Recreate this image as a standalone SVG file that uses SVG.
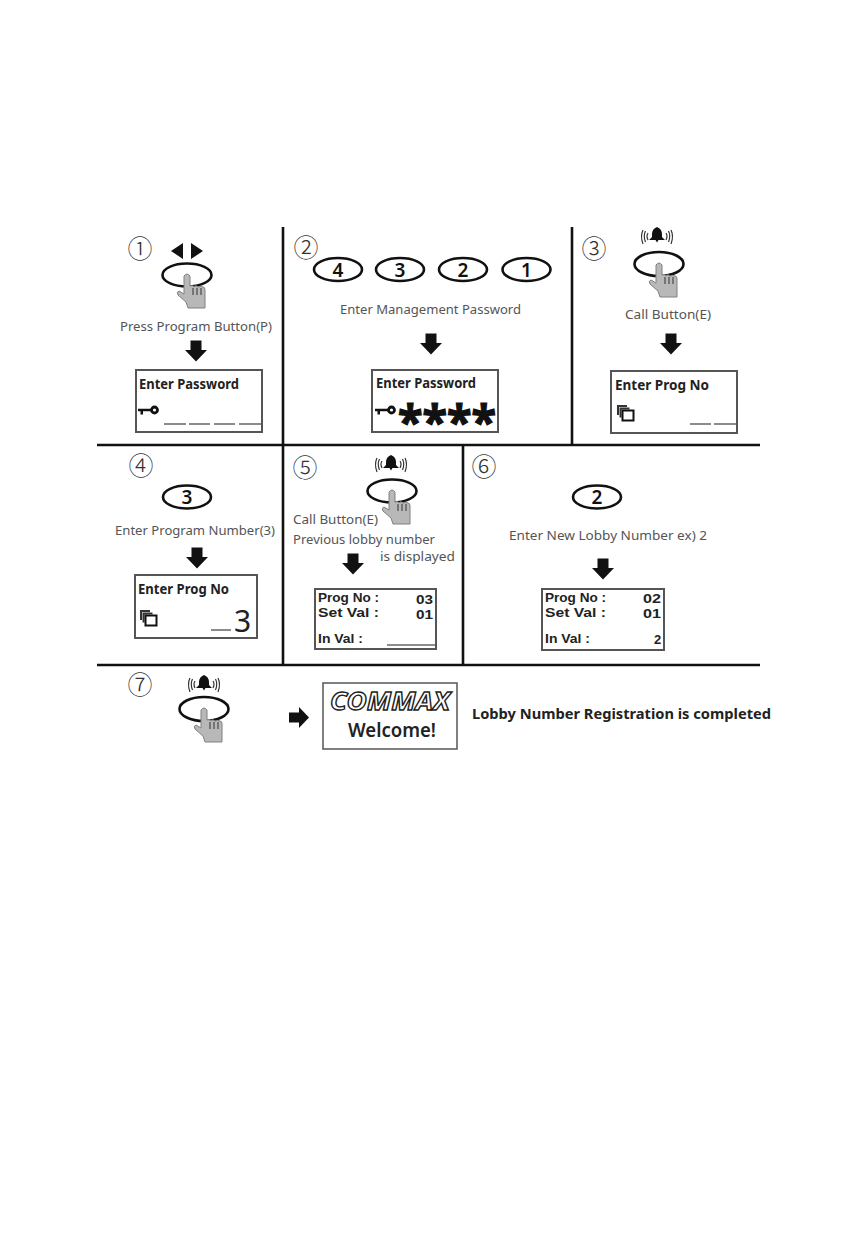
<svg xmlns="http://www.w3.org/2000/svg" xmlns:xlink="http://www.w3.org/1999/xlink" width="850" height="1247" viewBox="0 0 850 1247">
<style>
text{font-family:"Noto Sans","Liberation Sans",sans-serif}
.lab{font-size:12px;fill:#555}
.num{font-family:"Noto Sans CJK KR","DejaVu Sans",sans-serif;font-size:25px;fill:#333;text-anchor:middle;font-weight:300}
.lcd{fill:#fff;stroke:#555;stroke-width:2}
.t{font-size:14px;font-weight:700;fill:#222}
.s{font-family:"Liberation Sans",sans-serif;font-size:13px;font-weight:700;fill:#222}
.oval{fill:none;stroke:#111;stroke-width:2.600}
.dig{font-size:19px;font-weight:600;fill:#111;text-anchor:middle}
.dash{stroke:#666;stroke-width:1.500;fill:none}
.div{stroke:#111;stroke-width:2.600;fill:none}
</style>
<defs>
<g id="hand">
<path d="M-3,1Q0,-3 3,1L3,11Q5,10 7,11.500Q9,10 11,12Q14,10.500 16,12Q18,12 18,15L18,33L1,33L-1,27L-9,20Q-11,17 -8,16L-3,19Z" fill="#b8b8b8" stroke="#808080" stroke-width="1"/>
<path d="M6,13V20M10,13V20M14,13V20" stroke="#333" stroke-width="1" fill="none"/>
</g>
<g id="bell">
<path d="M0,-9Q5,-7 5,-2L5,1L8,4L1.500,4L0,6.500L-1.500,4L-8,4L-5,1L-5,-2Q-5,-7 0,-9Z" fill="#111"/>
<path d="M-9,-3Q-11,0 -9,4M-11.500,-5Q-14,0 -11.500,6M-14,-6Q-17,0 -14,8M9,-3Q11,0 9,4M11.500,-5Q14,0 11.500,6M14,-6Q17,0 14,8" fill="none" stroke="#333" stroke-width="1.200"/>
</g>
<path id="down" d="M-5.500,-10.500H5.500V-1H11L0,10.500L-11,-1H-5.500Z" fill="#111"/>
<g id="key">
<path d="M0,-1.300H14V1.300H5V4.500H2.500V1.300H0Z" fill="#111"/>
<circle cx="16.500" cy="0" r="3" fill="#fff" stroke="#111" stroke-width="2.800"/>
</g>
<g id="copy">
<path d="M0,0H10V2H2V10H0Z" fill="#333"/>
<path d="M2.500,2.500H12.500V4.500H4.500V12.500H2.500Z" fill="#333"/>
<rect x="5.500" y="5.500" width="11" height="10" fill="#fff" stroke="#111" stroke-width="2"/>
</g>
</defs>
<rect width="850" height="1247" fill="#fff"/>

<g id="dividers">
<path class="div" d="M97,445H760M97,665H760M283,227V665M572,227V445M463,445V665"/>
</g>

<g id="step1">
<text class="num" x="140" y="258">①</text>
<path d="M183,243V259L171,251ZM191,243V259L203,251Z" fill="#111"/>
<ellipse class="oval" cx="187" cy="275" rx="24.500" ry="11.500"/>
<use xlink:href="#hand" href="#hand" x="187" y="275"/>
<text class="lab" x="120" y="331" textLength="152" lengthAdjust="spacingAndGlyphs">Press Program Button(P)</text>
<rect class="lcd" x="136" y="370" width="126" height="62"/>
<text class="t" x="139" y="389" textLength="100" lengthAdjust="spacingAndGlyphs">Enter Password</text>
<use xlink:href="#key" href="#key" x="138" y="410"/>
<path class="dash" d="M164,424H186M189,424H210M214,424H235M239,424H261"/>
</g>

<g id="step2">
<text class="num" x="306" y="257">②</text>
<ellipse class="oval" cx="338" cy="269.500" rx="24" ry="11.500"/><text class="dig" x="338" y="276.500">4</text>
<ellipse class="oval" cx="400" cy="269.500" rx="24" ry="11.500"/><text class="dig" x="400" y="276.500">3</text>
<ellipse class="oval" cx="463" cy="269.500" rx="24" ry="11.500"/><text class="dig" x="463" y="276.500">2</text>
<ellipse class="oval" cx="526.500" cy="269.500" rx="24" ry="11.500"/><text class="dig" x="526.500" y="276.500">1</text>
<text class="lab" x="340" y="314" textLength="181" lengthAdjust="spacingAndGlyphs">Enter Management Password</text>
<rect class="lcd" x="372" y="370" width="126" height="62"/>
<text class="t" x="376" y="388" textLength="100" lengthAdjust="spacingAndGlyphs">Enter Password</text>
<use xlink:href="#key" href="#key" x="375" y="410"/>
<text x="398" y="439" font-family="DejaVu Sans, sans-serif" font-size="47" font-weight="700" fill="#111" stroke="#111" stroke-width="1.200" textLength="98" lengthAdjust="spacingAndGlyphs">****</text>
</g>

<g id="step3">
<text class="num" x="594" y="258">③</text>
<use xlink:href="#bell" href="#bell" x="657" y="236"/>
<ellipse class="oval" cx="659" cy="264" rx="24.500" ry="12"/>
<use xlink:href="#hand" href="#hand" x="659" y="264"/>
<text class="lab" x="625" y="319" textLength="86" lengthAdjust="spacingAndGlyphs">Call Button(E)</text>
<rect class="lcd" x="611" y="371" width="126" height="62"/>
<text class="t" x="615" y="390" textLength="94" lengthAdjust="spacingAndGlyphs">Enter Prog  No</text>
<use xlink:href="#copy" href="#copy" x="617" y="405"/>
<path class="dash" d="M690,424H711M714,424H736"/>
</g>

<g id="step4">
<text class="num" x="141" y="475">④</text>
<ellipse class="oval" cx="187" cy="497" rx="24" ry="11.500"/><text class="dig" x="187" y="504">3</text>
<text class="lab" x="115" y="535" textLength="160" lengthAdjust="spacingAndGlyphs">Enter Program Number(3)</text>
<rect class="lcd" x="135" y="575" width="122" height="63"/>
<text class="t" x="138" y="594" textLength="91" lengthAdjust="spacingAndGlyphs">Enter Prog  No</text>
<use xlink:href="#copy" href="#copy" x="140" y="610"/>
<path class="dash" d="M211,630H231"/>
<text x="234" y="632" font-size="30" fill="#222">3</text>
</g>

<g id="step5">
<text class="num" x="305" y="477">⑤</text>
<use xlink:href="#bell" href="#bell" x="391" y="464"/>
<ellipse class="oval" cx="392" cy="491" rx="24.500" ry="11.500"/>
<use xlink:href="#hand" href="#hand" x="392" y="491"/>
<text class="lab" x="293" y="524" textLength="85" lengthAdjust="spacingAndGlyphs">Call Button(E)</text>
<text class="lab" x="293" y="544" textLength="142" lengthAdjust="spacingAndGlyphs">Previous lobby number</text>
<text class="lab" x="380" y="561" textLength="75" lengthAdjust="spacingAndGlyphs">is displayed</text>
<rect class="lcd" x="315" y="589" width="121" height="60"/>
<text class="s" x="318" y="602" textLength="61" lengthAdjust="spacingAndGlyphs">Prog No :</text>
<text class="s" x="416" y="604" textLength="17" lengthAdjust="spacingAndGlyphs">03</text>
<text class="s" x="318" y="617" textLength="61" lengthAdjust="spacingAndGlyphs">Set  Val  :</text>
<text class="s" x="416" y="619" textLength="17" lengthAdjust="spacingAndGlyphs">01</text>
<text class="s" x="318" y="643" textLength="45" lengthAdjust="spacingAndGlyphs">In Val :</text>
<path class="dash" d="M387,645H435"/>
</g>

<g id="step6">
<text class="num" x="484" y="476">⑥</text>
<ellipse class="oval" cx="597" cy="497" rx="24" ry="11.500"/><text class="dig" x="597" y="504">2</text>
<text class="lab" x="509" y="540" textLength="198" lengthAdjust="spacingAndGlyphs">Enter New Lobby Number ex) 2</text>
<rect class="lcd" x="542" y="589" width="122" height="61"/>
<text class="s" x="545" y="602" textLength="61" lengthAdjust="spacingAndGlyphs">Prog No :</text>
<text class="s" x="643" y="603" textLength="18" lengthAdjust="spacingAndGlyphs">02</text>
<text class="s" x="545" y="617" textLength="61" lengthAdjust="spacingAndGlyphs">Set  Val  :</text>
<text class="s" x="643" y="618" textLength="18" lengthAdjust="spacingAndGlyphs">01</text>
<text class="s" x="545" y="643" textLength="45" lengthAdjust="spacingAndGlyphs">In Val :</text>
<text class="s" x="654" y="644">2</text>
</g>

<g id="step7">
<text class="num" x="140" y="694">⑦</text>
<use xlink:href="#bell" href="#bell" x="204" y="684"/>
<ellipse class="oval" cx="204" cy="709" rx="24.500" ry="12"/>
<use xlink:href="#hand" href="#hand" x="204" y="709"/>
<rect x="323" y="683" width="134" height="66" fill="#fff" stroke="#555" stroke-width="1.500"/>
<text x="330" y="710" font-family="Liberation Sans, sans-serif" font-size="25" font-weight="700" font-style="italic" fill="#fff" stroke="#222" stroke-width="1.300" textLength="120" lengthAdjust="spacingAndGlyphs">COMMAX</text>
<text x="348" y="737" font-size="20" font-weight="600" fill="#222" textLength="88" lengthAdjust="spacingAndGlyphs">Welcome!</text>
<text x="472" y="719" font-size="13.500" font-weight="700" fill="#222" textLength="299" lengthAdjust="spacingAndGlyphs">Lobby Number Registration is completed</text>
</g>

<g id="connectors">
<use xlink:href="#down" href="#down" x="196" y="351"/>
<use xlink:href="#down" href="#down" x="431" y="344"/>
<use xlink:href="#down" href="#down" x="671" y="344"/>
<use xlink:href="#down" href="#down" x="197" y="558"/>
<use xlink:href="#down" href="#down" x="353" y="564"/>
<use xlink:href="#down" href="#down" x="603" y="569"/>
<path d="M289,712.500H299V707L309,717.500L299,728V722.500H289Z" fill="#111"/>
</g>
</svg>
